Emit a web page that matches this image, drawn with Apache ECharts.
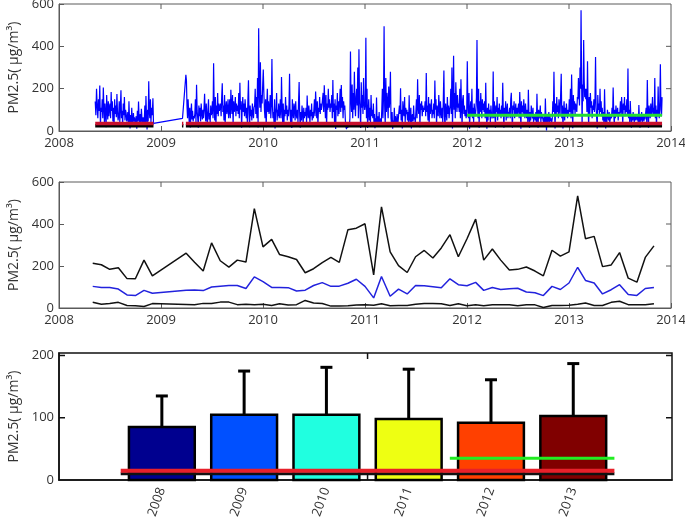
<!DOCTYPE html>
<html><head><meta charset="utf-8">
<script src="https://cdn.jsdelivr.net/npm/echarts@6/dist/echarts.min.js"></script>
<style>html,body{margin:0;padding:0;background:#fff}#c{width:685px;height:519px}</style>
</head><body><div id="c"></div>
<script>
// ---------- Panel 1: daily PM2.5 (values per month, sampled through the month) ----------
const dailyMonths = [
 '2008-05','2008-06','2008-07','2008-08','2008-09','2008-10','2008-11','2008-12',
 '2009-03','2009-04','2009-05','2009-06','2009-07','2009-08','2009-09','2009-10','2009-11','2009-12',
 '2010-01','2010-02','2010-03','2010-04','2010-05','2010-06','2010-07','2010-08','2010-09','2010-10','2010-11','2010-12',
 '2011-01','2011-02','2011-03','2011-04','2011-05','2011-06','2011-07','2011-08','2011-09','2011-10','2011-11','2011-12',
 '2012-01','2012-02','2012-03','2012-04','2012-05','2012-06','2012-07','2012-08','2012-09','2012-10','2012-11','2012-12',
 '2013-01','2013-02','2013-03','2013-04','2013-05','2013-06','2013-07','2013-08','2013-09','2013-10','2013-11'
];
const dailyValues = [
 [140,75,200,120,60,150,95,215,27,110],
 [90,150,60,206,120,40,130,80,18,170,100,55,140,70,110],
 [130,60,184,95,140,45,110,21,150,80,120,65,175,90,50],
 [70,140,40,110,192,60,95,27,130,75,160,50,100,85,45],
 [40,90,25,140,60,12,75,35,110,50,20,85,45,65,30],
 [30,70,11,95,45,139,60,25,80,40,105,55,20,65,35],
 [50,120,30,165,70,7,100,45,235,90,60,150,40,110,75],
 [90,155,36],
 [60,265],
 [240,120,60,150,90,40,110,17,75,130,55,95,45,70,60],
 [80,150,40,218,95,60,16,120,70,110,45,130,85,55,100],
 [60,110,176,90,45,130,70,22,100,150,55,85,40,120,75],
 [90,140,60,320,110,50,160,21,120,80,180,70,130,95,100],
 [130,70,160,225,90,120,50,170,28,110,140,80,100,150,60],
 [100,150,60,195,120,80,170,28,140,90,110,160,70,130,95],
 [120,80,180,60,228,100,140,16,110,160,90,130,70,150,100],
 [60,110,40,150,240,80,18,120,70,100,50,130,90,60,110],
 [120,200,80,160,60,250,16,485,190,110,325,90,170,130,220],
 [290,180,100,60,150,18,120,200,90,140,80,110,170,60,130],
 [340,120,60,90,40,150,12,80,110,180,50,100,70,130,60],
 [90,150,60,255,110,40,130,20,100,70,160,80,120,50,100],
 [70,120,270,80,40,100,14,150,90,60,130,110,50,140,80],
 [60,100,40,140,231,70,16,90,50,120,80,30,110,60,90],
 [70,110,36,168,90,60,120,80,40,100,70,130,50,90,60],
 [100,150,70,187,120,60,140,24,110,90,160,80,130,100,120],
 [120,180,90,216,140,60,170,21,130,100,200,110,150,90,130],
 [110,170,60,241,90,130,40,150,9,120,100,180,70,140,80],
 [130,200,90,217,110,160,60,140,100,120,50,20,9,30,15],
 [11,40,20,60,375,150,90,220,60,180,100,280,130,70,160],
 [200,120,300,60,386,150,90,14,230,110,170,80,250,130,100],
 [120,441,60,200,14,90,150,50,110,40,170,70,100,60,130],
 [40,80,13,60,30,158,50,25,70,35,90,20,45,60,30],
 [100,200,60,160,495,120,20,250,90,180,140,60,210,110,150],
 [280,60,30,90,11,50,40,110,25,70,45,35,80,20,55],
 [60,120,80,202,50,100,12,140,90,70,160,40,110,80,100],
 [50,90,30,169,60,40,110,12,70,80,45,120,55,65,35],
 [90,150,60,244,110,80,170,18,130,100,140,70,120,90,110],
 [100,140,70,274,90,120,50,160,22,130,80,110,150,60,100],
 [80,130,60,238,100,150,21,120,90,70,170,110,60,140,90],
 [60,110,40,150,286,70,20,130,90,50,160,80,120,60,100],
 [120,200,80,300,12,150,355,100,180,60,230,140,90,170,110],
 [130,90,200,60,244,110,20,150,170,80,120,70,100,60,90],
 [330,120,60,180,11,100,140,80,200,60,110,40,130,90,70],
 [100,160,430,120,60,200,15,140,90,180,110,60,150,100,130],
 [90,140,60,228,80,11,110,50,130,70,100,40,120,80,60],
 [80,281,60,140,100,15,120,90,160,50,110,70,130,80,100],
 [60,120,80,228,90,16,110,70,140,50,100,130,60,90,80],
 [110,60,150,181,80,15,120,100,140,60,90,130,70,110,80],
 [80,130,60,184,110,11,140,90,120,70,150,100,60,130,90],
 [60,100,40,195,70,16,90,50,120,80,60,110,40,80,70],
 [50,90,30,176,70,15,100,60,80,120,40,90,60,70,50],
 [40,70,20,153,50,2,80,30,60,90,25,70,45,60,40],
 [60,140,90,280,110,12,130,70,160,90,120,60,150,100,80],
 [80,270,60,120,12,100,140,50,110,70,130,90,60,100,80],
 [150,90,200,60,267,120,13,170,100,140,80,130,110,90,160],
 [150,250,180,120,300,200,570,260,18,220,140,430,240,160,200],
 [150,200,90,330,110,24,160,80,180,110,140,60,120,100,150],
 [90,150,350,110,60,12,170,100,130,80,200,90,140,70,110],
 [50,90,30,197,60,12,80,40,100,70,50,90,40,60,70],
 [60,110,70,205,90,27,100,60,120,80,70,110,50,90,80],
 [90,140,80,160,110,32,130,100,160,70,120,90,150,80,295],
 [60,100,40,142,70,16,80,50,90,60,40,80,50,70,60],
 [50,80,30,123,60,15,70,50,90,40,60,80,45,70,55],
 [60,110,40,241,80,15,120,90,60,130,70,100,160,80,110],
 [80,250,60,120,20,100,70,210,90,60,140,315,100,70,160]
];
// months with only part of their days covered: [month, first day, last day]
const partialMonths = [['2008-05',10,31],['2008-12',1,5],['2009-03',19,31]];
// standard lines of panel 1: value and the spans where they are drawn
const dailyStdRed = 35, dailyStdBlack = 25, dailyStdGreen = 75;
const dailyStdSpans = [['2008-05-10','2008-12-05'],['2009-03-17','2009-03-22'],['2009-03-31','2013-11-30']];
const dailyGreenSpan = ['2012-01-01','2013-11-30'];

// ---------- Panel 2: monthly max / mean / min ----------
const monthlyMonths = [
 '2008-05','2008-06','2008-07','2008-08','2008-09','2008-10','2008-11','2008-12',
 '2009-04','2009-05','2009-06','2009-07','2009-08','2009-09','2009-10','2009-11','2009-12',
 '2010-01','2010-02','2010-03','2010-04','2010-05','2010-06','2010-07','2010-08','2010-09','2010-10','2010-11','2010-12',
 '2011-01','2011-02','2011-03','2011-04','2011-05','2011-06','2011-07','2011-08','2011-09','2011-10','2011-11','2011-12',
 '2012-01','2012-02','2012-03','2012-04','2012-05','2012-06','2012-07','2012-08','2012-09','2012-10','2012-11','2012-12',
 '2013-01','2013-02','2013-03','2013-04','2013-05','2013-06','2013-07','2013-08','2013-09','2013-10','2013-11'
];
const monthlyMax = [
 213,206,184,192,140,139,228,153,
 261,218,176,310,225,195,228,219,473,
 291,327,255,244,231,168,187,216,241,217,373,380,
 401,158,482,267,202,169,244,274,238,286,349,244,
 330,423,228,281,228,181,184,195,176,153,275,247,
 267,534,330,341,197,205,264,142,123,241,296
];
const monthlyMean = [
 103,98,98,90,62,59,84,70,
 84,86,83,100,104,107,107,93,148,
 126,98,98,97,81,85,107,121,103,104,118,137,
 103,48,150,56,90,67,107,106,101,96,139,111,
 106,122,84,98,88,92,94,76,73,59,103,88,
 119,194,131,119,67,87,111,64,60,93,98
];
const monthlyMin = [
 27,18,21,27,12,11,7,21,
 17,16,22,21,28,28,16,18,16,
 18,12,20,14,16,36,24,21,9,9,11,14,
 16,13,20,11,12,12,18,22,21,20,12,20,
 11,15,11,15,16,15,11,16,15,2,12,12,
 13,18,24,12,12,27,32,16,15,15,20
];

// ---------- Panel 3: annual mean with standard deviation ----------
const years = [2008,2009,2010,2011,2012,2013];
const yearMean = [85,105,105,98,92,103];
const yearUpper = [135,175,181,178,161,187];
const yearColors = ['#00008f','#0050ff','#20ffe0','#eeff12','#ff4000','#800000'];
const annualStdRed = 15, annualStdBlack = 10, annualStdGreen = 35;
const annualStdSpan = [2007.5, 2013.5];
const annualGreenSpan = [2011.5, 2013.5];

// tick values of the frames
const yearTicks = [2009,2010,2011,2012,2013];
const pmTicks = [200,400];
const barXTicks = [2010.5];
const barYTicks = [100,200];

// ---------- helpers ----------
function daysIn(y,m){ return new Date(Date.UTC(y,m,0)).getUTCDate(); }
function decYear(y,m,d){
  const start = Date.UTC(y,0,1), end = Date.UTC(y+1,0,1);
  const t = Date.UTC(y,m-1,1) + (d-1)*86400000;
  return y + (t-start)/(end-start);
}
function dateToYear(s){ const p=s.split('-').map(Number); return decYear(p[0],p[1],p[2]||1); }

const dailyData = [];
dailyMonths.forEach((ms,k)=>{
  const [y,m] = ms.split('-').map(Number);
  const vals = dailyValues[k];
  const part = partialMonths.find(p=>p[0]===ms);
  vals.forEach((v,i)=>{
    let d;
    if (part) d = vals.length===1 ? part[1] : part[1] + (part[2]-part[1])*i/(vals.length-1);
    else d = 1 + daysIn(y,m)*(i+0.5)/vals.length;
    dailyData.push([decYear(y,m,d), v]);
  });
});
function spanLine(spans, v){
  const out=[];
  spans.forEach((s,i)=>{ if(i) out.push([ (dateToYear(spans[i-1][1])+dateToYear(s[0]))/2, '-']);
    out.push([dateToYear(s[0]),v]); out.push([dateToYear(s[1]),v]); });
  return out;
}
const monthX = monthlyMonths.map(s=>dateToYear(s+'-01'));

// frame ticks (inward) on the sides that have no axis: drawn through the axes' scales
function frameTicks(idx, xVals, yVals, xRef, yRef, xSides, ySides, color, width, len){
  const data = xVals.map(v=>[v, yRef, 0]).concat(yVals.map(v=>[xRef, v, 1]));
  return {type:'custom', xAxisIndex:idx, yAxisIndex:idx, data:data, silent:true, z:10,
    renderItem:(params, api)=>{
      const cs = params.coordSys, p = api.coord([api.value(0), api.value(1)]);
      const st = {stroke:color, lineWidth:width};
      const kids = [];
      if (api.value(2)===0) {
        if (xSides.includes('top')) kids.push({type:'line', shape:{x1:p[0],y1:cs.y,x2:p[0],y2:cs.y+len}, style:st});
        if (xSides.includes('bottom')) kids.push({type:'line', shape:{x1:p[0],y1:cs.y+cs.height,x2:p[0],y2:cs.y+cs.height-len}, style:st});
      } else {
        if (ySides.includes('right')) kids.push({type:'line', shape:{x1:cs.x+cs.width,y1:p[1],x2:cs.x+cs.width-len,y2:p[1]}, style:st});
        if (ySides.includes('left')) kids.push({type:'line', shape:{x1:cs.x,y1:p[1],x2:cs.x+len,y2:p[1]}, style:st});
      }
      return {type:'group', children:kids};
    }};
}

const axisColor = '#5a5a5a';
const labelStyle = {color:'#333', fontSize:13, fontFamily:'Open Sans'};
function xAx(grid, extra){
  return Object.assign({
    type:'value', gridIndex:grid, position:'bottom', min:2008, max:2014, interval:1,
    axisLine:{show:true, onZero:false, lineStyle:{color:axisColor, width:1}},
    axisTick:{show:true, inside:true, length:5, lineStyle:{color:axisColor}},
    axisLabel:Object.assign({show:true, margin:6, formatter:v=>String(v)}, labelStyle),
    splitLine:{show:false}
  }, extra||{});
}
function yAx(grid, extra){
  return Object.assign({
    type:'value', gridIndex:grid, position:'left', min:0, max:600, interval:200,
    axisLine:{show:true, onZero:false, lineStyle:{color:axisColor, width:1}},
    axisTick:{show:true, inside:true, length:5, lineStyle:{color:axisColor}},
    axisLabel:Object.assign({show:true, margin:5}, labelStyle),
    splitLine:{show:false},
    name:'PM2.5( \u03bcg/m\u00b3)', nameLocation:'middle', nameGap:35, nameRotate:90,
    nameTextStyle:{color:'#333', fontSize:14, fontFamily:'Open Sans'}
  }, extra||{});
}
const blackAxis = {show:true, onZero:false, lineStyle:{color:'#111', width:1.5}};

const option = {
  animation:false,
  backgroundColor:'#fff',
  grid:[
    {left:59, top:4, width:612, height:127, show:true, borderColor:axisColor, borderWidth:1, outerBoundsMode:'none'},
    {left:59, top:182, width:612, height:126, show:true, borderColor:axisColor, borderWidth:1, outerBoundsMode:'none'},
    {left:59, top:353, width:613, height:127, show:true, borderColor:'#111', borderWidth:1.5, outerBoundsMode:'none'}
  ],
  xAxis:[
    xAx(0), xAx(1),
    xAx(2,{min:2006.75, max:2014.2, interval:null, axisLine:blackAxis, axisTick:{show:false},
      axisLabel:Object.assign({show:true, margin:8, rotate:70, customValues:years, formatter:v=>String(v)}, labelStyle)})
  ],
  yAxis:[
    yAx(0), yAx(1),
    yAx(2,{max:204, interval:null, axisLine:blackAxis, axisTick:{show:false},
      axisLabel:Object.assign({show:true, margin:5, customValues:[0,100,200]}, labelStyle)})
  ],
  series:[
    frameTicks(0, yearTicks, pmTicks, 2008, 0, ['top'], ['right'], axisColor, 1, 5),
    frameTicks(1, yearTicks, pmTicks, 2008, 0, ['top'], ['right'], axisColor, 1, 5),
    frameTicks(2, barXTicks, barYTicks, 2007, 0, ['top','bottom'], ['left','right'], '#111', 1.5, 6),

    {type:'line', xAxisIndex:0, yAxisIndex:0, data:dailyData, showSymbol:false,
     lineStyle:{color:'#0000ff', width:1.2}, z:2},
    {type:'line', xAxisIndex:0, yAxisIndex:0, data:spanLine(dailyStdSpans,dailyStdBlack), showSymbol:false,
     lineStyle:{color:'#000', width:3.5, cap:'butt'}, z:3},
    {type:'line', xAxisIndex:0, yAxisIndex:0, data:spanLine(dailyStdSpans,dailyStdRed), showSymbol:false,
     lineStyle:{color:'#c8102e', width:3.5, cap:'butt'}, z:4},
    {type:'line', xAxisIndex:0, yAxisIndex:0, data:spanLine([dailyGreenSpan],dailyStdGreen), showSymbol:false,
     lineStyle:{color:'#22dd33', width:3, cap:'butt'}, z:4},

    {type:'line', xAxisIndex:1, yAxisIndex:1, data:monthX.map((x,i)=>[x,monthlyMax[i]]), showSymbol:false,
     lineStyle:{color:'#111', width:1.5}},
    {type:'line', xAxisIndex:1, yAxisIndex:1, data:monthX.map((x,i)=>[x,monthlyMean[i]]), showSymbol:false,
     lineStyle:{color:'#2222dd', width:1.5}},
    {type:'line', xAxisIndex:1, yAxisIndex:1, data:monthX.map((x,i)=>[x,monthlyMin[i]]), showSymbol:false,
     lineStyle:{color:'#111', width:1.5}},

    {type:'custom', xAxisIndex:2, yAxisIndex:2, data:years.map((y,i)=>[y,yearMean[i],yearUpper[i]]),
     renderItem:(params, api)=>{
       const x=api.value(0), v=api.value(1), up=api.value(2);
       const p0=api.coord([x-0.4,v]), p1=api.coord([x+0.4,0]);
       const top=api.coord([x,up]), mid=api.coord([x,v]);
       return {type:'group', children:[
         {type:'line', shape:{x1:top[0],y1:top[1],x2:mid[0],y2:mid[1]}, style:{stroke:'#000',lineWidth:3}},
         {type:'line', shape:{x1:top[0]-6,y1:top[1],x2:top[0]+6,y2:top[1]}, style:{stroke:'#000',lineWidth:3}},
         {type:'rect', shape:{x:p0[0],y:p0[1],width:p1[0]-p0[0],height:p1[1]-p0[1]},
          style:{fill:yearColors[params.dataIndex], stroke:'#000', lineWidth:2.5}}
       ]};
     }, z:2},
    {type:'line', xAxisIndex:2, yAxisIndex:2, data:annualStdSpan.map(x=>[x,annualStdBlack]), showSymbol:false,
     lineStyle:{color:'#111', width:3, cap:'butt'}, z:3},
    {type:'line', xAxisIndex:2, yAxisIndex:2, data:annualStdSpan.map(x=>[x,annualStdRed]), showSymbol:false,
     lineStyle:{color:'#e8202a', width:4, cap:'butt'}, z:4},
    {type:'line', xAxisIndex:2, yAxisIndex:2, data:annualGreenSpan.map(x=>[x,annualStdGreen]), showSymbol:false,
     lineStyle:{color:'#22ee22', width:3, cap:'butt'}, z:4}
  ]
};
const chart = echarts.init(document.getElementById('c'), null, {renderer:'canvas'});
chart.setOption(option);
</script></body></html>
